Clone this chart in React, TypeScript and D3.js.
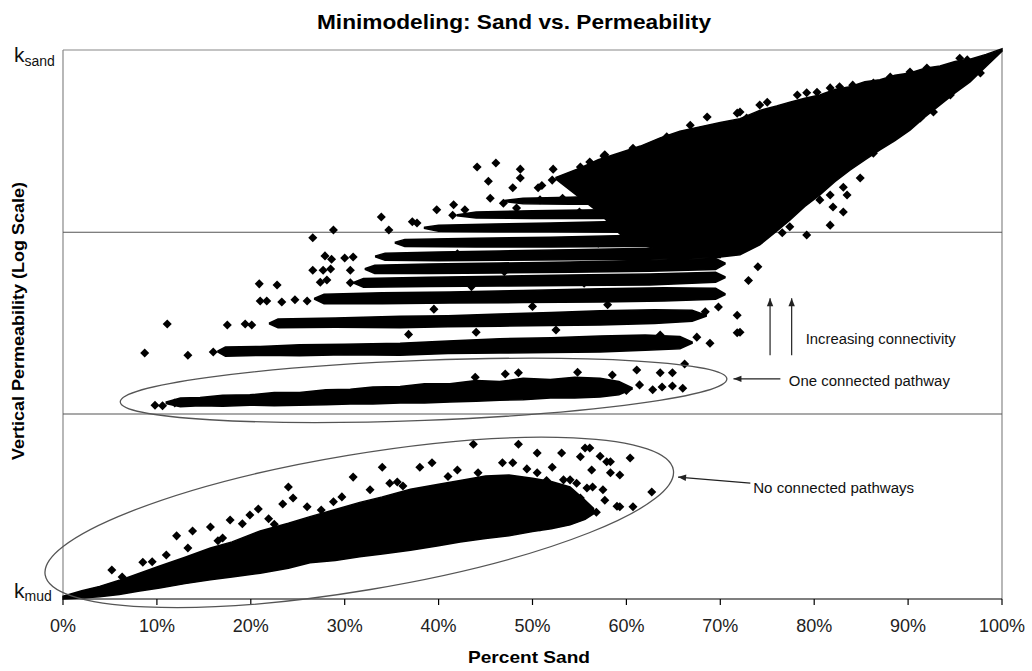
import React from "react";
import * as d3 from "d3";

// ---------- data (sand in %, permeability as % of log range between k_mud and k_sand) ----------
const sandTicks = [0, 10, 20, 30, 40, 50, 60, 70, 80, 90, 100];
const thresholds = [33.7, 66.8];

// dense envelopes of overlapping realisations: [sand, low, high]
const noPathMass: [number, number, number][] = [
  [0, 0, 0.5], [2, 0.2, 1.5], [3.9, 0.4, 2.3], [6, 0.8, 3.4], [8, 1.4, 4.6], [10.3, 2.0, 6.0],
  [13, 2.8, 7.6], [15.7, 3.5, 9.3], [18, 4.0, 10.4], [21.0, 4.7, 12.4], [24, 5.6, 13.8],
  [26.3, 6.6, 15.0], [29, 7.0, 16.3], [31.6, 7.7, 17.6], [34, 8.2, 18.6], [37.0, 8.9, 20.0],
  [40, 9.7, 20.9], [42.3, 10.4, 21.6], [45, 11.0, 22.4], [47.5, 11.5, 22.6], [50, 12.3, 22.0],
  [52, 12.8, 21.4], [54.0, 13.5, 20.4], [55.6, 14.5, 18.0], [56.5, 15.5, 16.5],
];
const oneConnectedBand: [number, number, number][] = [
  [11.0, 35.6, 35.9], [12.5, 35.0, 36.6], [14.6, 35.2, 36.7], [17, 35.1, 37.1], [19.9, 35.3, 37.2],
  [22.5, 35.2, 37.6], [25.2, 35.3, 37.6], [28, 35.4, 38.1], [30.6, 35.5, 38.2], [33, 35.5, 38.6],
  [35.9, 35.7, 38.7], [38.5, 35.7, 39.2], [41.2, 35.9, 39.2], [44, 36.0, 39.8], [46.5, 36.2, 39.6],
  [49, 36.3, 40.2], [51.9, 36.6, 40.0], [54.5, 36.6, 40.4], [57.2, 36.8, 40.2], [59.2, 37.2, 39.6],
  [60.6, 38.2, 38.5],
];
const row2: [number, number, number][] = [[16.5, 45.0, 45.2], [17.3, 44.2, 45.9], [21, 44.4, 46.0], [25.2, 44.3, 46.3], [30, 44.5, 46.4], [35.9, 44.4, 46.6], [41, 44.7, 47.0], [46.5, 44.8, 47.4], [52, 44.9, 47.6], [57.2, 45.0, 47.9], [62, 45.3, 48.1], [65.7, 45.6, 47.8], [67, 46.6, 46.8]];
const row3: [number, number, number][] = [[22.0, 50.1, 50.3], [22.9, 49.4, 51.0], [29, 49.5, 51.2], [35.9, 49.4, 51.5], [41, 49.6, 51.6], [46.5, 49.7, 51.9], [52, 49.8, 52.2], [57.2, 49.9, 52.5], [63, 50.2, 52.7], [67.0, 50.6, 52.6], [68.5, 51.5, 51.7]];
const row4: [number, number, number][] = [[26.8, 54.6, 54.8], [27.8, 53.8, 55.5], [34, 53.8, 55.8], [41.2, 53.9, 55.9], [49, 54.0, 56.2], [57.2, 54.1, 56.5], [64, 54.3, 56.7], [69.5, 54.6, 56.6], [70.5, 55.4, 55.6]];
const row5: [number, number, number][] = [[31.0, 57.5, 57.7], [32.0, 56.8, 58.4], [39, 56.9, 58.6], [46.5, 57.0, 58.8], [54, 57.1, 59.0], [62.5, 57.2, 59.2], [69.5, 57.7, 59.5], [70.5, 58.5, 58.7]];
const row6: [number, number, number][] = [[32.2, 60.0, 60.2], [33.2, 59.3, 60.8], [39, 59.3, 61.0], [46.5, 59.4, 61.2], [54, 59.5, 61.4], [62.5, 59.7, 61.7], [69.5, 60.0, 62.0], [70.5, 61.0, 61.2]];
const row7: [number, number, number][] = [[33.3, 62.3, 62.5], [34.3, 61.7, 63.0], [40, 61.6, 63.2], [46.5, 61.7, 63.4], [54, 61.8, 63.6], [62.5, 61.9, 63.9], [70.0, 62.2, 64.2]];
const row8: [number, number, number][] = [[35.4, 64.8, 65.0], [36.4, 64.2, 65.5], [44, 64.1, 65.7], [51.9, 64.1, 65.9], [60, 64.2, 66.2], [67.8, 64.3, 66.5]];
const row9: [number, number, number][] = [[38.5, 67.5, 67.7], [40, 67.0, 68.1], [46, 66.9, 68.3], [51.9, 66.9, 68.5], [60, 66.8, 68.8], [66, 66.8, 69.0]];
const row10: [number, number, number][] = [[42.0, 69.8, 70.0], [44, 69.4, 70.5], [50, 69.3, 70.7], [57.2, 69.3, 70.9], [61, 69.4, 71.0]];
const row11: [number, number, number][] = [[47.0, 72.4, 72.6], [49, 72.0, 73.0], [54, 71.9, 73.2], [59.3, 71.9, 73.5]];
const upperMass: [number, number, number][] = [
  [52.5, 76.5, 76.8], [55.1, 73.0, 78.5], [57, 70.5, 80.0], [59.3, 66.5, 81.3], [61.5, 64.5, 82.5],
  [63.6, 63.6, 84.0], [65.7, 63.0, 85.2], [67.8, 62.7, 86.0], [70, 62.3, 86.8], [72.1, 62.7, 87.5],
  [74.2, 64.5, 89.0], [76, 67.0, 89.8], [77.4, 69.0, 90.5], [79, 71.5, 91.2], [80.6, 73.6, 91.8],
  [82.2, 76.0, 92.8], [83.8, 78.1, 93.3], [85.4, 80.0, 94.2], [87.0, 81.8, 94.6], [88.6, 83.5, 95.4],
  [90.2, 85.4, 95.8], [91.8, 87.8, 96.7], [93.4, 90.0, 97.1], [95.0, 92.2, 97.9], [96.6, 94.2, 98.3],
  [98.3, 97.0, 99.2], [100, 99.8, 100.2],
];

// individual realisations: [sand, permeability]
const noPathPoints: [number, number][] = [
  [5.2, 5.3], [6.3, 4.0], [8.5, 6.7], [11.0, 8.0], [12.1, 11.5], [13.3, 9.3], [13.8, 12.4],
  [15.7, 13.1], [17.0, 11.1], [17.8, 14.4], [19.1, 13.7], [19.9, 15.3], [20.8, 16.4],
  [21.9, 14.6], [23.4, 17.3], [24.0, 20.4], [24.5, 18.4], [26.0, 16.8], [28.8, 17.7],
  [29.7, 18.6], [30.9, 22.2], [32.7, 19.9], [34.0, 24.0], [34.8, 21.1], [35.6, 21.3],
  [38.0, 24.0], [39.3, 24.8], [42.0, 23.5], [43.7, 28.2], [46.8, 24.8], [47.9, 24.8],
  [48.5, 28.2], [49.4, 23.7], [50.5, 26.6], [50.5, 23.0], [52.1, 24.0], [53.1, 26.6],
  [53.3, 21.7], [54.0, 21.7], [54.7, 21.1], [55.1, 25.9], [55.6, 27.5], [56.1, 27.5],
  [55.8, 20.2], [56.4, 20.4], [56.3, 23.5], [57.2, 26.0], [57.5, 19.9], [57.7, 18.0],
  [57.9, 25.0], [58.3, 25.0], [58.3, 23.0], [59.3, 22.6], [59.0, 16.9], [59.3, 16.8],
  [60.4, 25.7], [60.7, 16.8], [62.7, 19.5], [55.1, 18.4], [54.3, 16.2], [54.0, 14.4],
  [50.8, 13.1], [9.5, 6.8], [16.5, 10.6], [22.5, 13.6], [27.5, 16.2], [36.2, 20.6],
  [41.0, 22.3], [44.2, 23.0], [51.5, 21.6], [56.8, 15.8],
];
const oneConnectedPoints: [number, number][] = [
  [9.8, 35.3], [10.6, 35.2], [11.9, 35.7], [43.9, 40.4], [47.1, 41.0], [48.5, 41.2],
  [54.8, 41.3], [61.1, 41.7], [61.4, 39.0], [62.8, 38.1], [63.6, 41.2], [63.8, 38.6],
  [64.9, 41.2], [64.9, 38.8], [66.0, 38.4], [66.2, 42.8], [58.5, 40.8], [60.0, 38.0],
];
const multiPathPoints: [number, number][] = [
  [8.7, 44.8], [13.3, 44.4], [16.0, 45.0],
  [11.1, 50.1], [17.5, 49.9], [19.4, 50.1], [20.1, 49.9],
  [21.0, 54.3], [21.7, 54.3], [23.3, 54.1], [24.7, 54.5], [26.0, 54.3],
  [20.9, 57.4], [22.8, 57.2], [27.4, 57.7], [28.1, 58.1], [30.6, 57.6],
  [26.6, 59.9], [27.7, 59.9], [28.5, 60.1], [30.6, 59.9],
  [27.9, 62.5], [28.6, 61.9], [30.0, 62.1], [30.9, 62.3],
  [26.6, 65.8], [28.8, 67.2],
  [63.6, 48.1], [67.5, 47.7], [68.9, 46.6], [62.5, 46.6], [71.8, 48.5], [72.1, 48.6],
  [71.8, 51.7], [69.8, 53.2], [68.4, 52.3],
  [44.1, 78.7], [46.1, 79.4], [45.3, 76.1], [48.7, 78.3], [48.7, 76.7], [45.5, 73.0],
  [47.9, 74.9], [50.6, 74.9], [52.2, 78.3], [52.1, 76.3], [53.7, 76.0], [55.1, 78.7],
  [56.1, 79.6], [57.6, 80.7], [39.8, 70.9], [41.6, 71.8], [33.9, 69.6], [34.7, 67.2],
  [37.2, 68.7], [37.7, 68.5], [41.5, 69.9], [42.8, 70.9], [46.9, 72.1], [48.3, 71.2],
  [50.8, 72.7], [53.2, 73.0],
  [57.7, 80.9], [59.3, 80.3], [60.7, 82.1], [61.8, 80.9], [64.3, 84.2], [66.8, 86.3],
  [68.6, 87.8], [71.8, 88.5], [72.8, 87.6], [75.0, 90.5], [79.2, 92.2], [80.3, 92.3],
  [82.7, 93.3], [86.3, 94.0], [90.2, 96.0], [95.5, 98.5],
  [72.1, 88.7], [74.2, 90.0], [78.2, 91.8], [81.7, 93.1], [84.1, 93.6], [88.1, 95.1],
  [92.0, 96.7], [96.3, 98.2],
  [84.9, 76.7], [83.1, 75.0], [83.5, 73.6], [81.7, 73.6], [82.0, 71.4], [83.1, 70.5],
  [80.6, 72.7], [81.7, 68.1], [79.2, 66.3], [77.4, 67.8], [76.6, 66.7], [86.3, 81.2],
  [89.5, 85.4], [94.5, 91.8], [88.4, 84.0], [91.3, 87.6], [92.7, 88.7], [97.7, 95.8],
  [84.1, 80.0], [82.7, 78.1],
  [36.8, 48.2], [44.0, 48.6], [52.5, 49.0], [39.5, 52.8], [50.0, 53.3], [58.0, 53.6],
  [43.5, 56.9], [55.5, 57.5], [47.0, 59.6], [60.0, 60.4], [42.0, 62.9], [57.0, 64.8],
  [63.5, 67.5], [55.0, 70.5], [60.0, 74.0], [51.0, 75.3], [73.0, 58.0], [74.0, 60.5],
];

// ---------- layout ----------
const W = 1032;
const H = 671;
const PL = 63, PR = 1002, PT = 50, PB = 599;
const FONT = "'Liberation Sans', Arial, Helvetica, sans-serif";

const x = d3.scaleLinear().domain([0, 100]).range([PL, PR]);
const y = d3.scaleLinear().domain([0, 100]).range([PB, PT]);

const area = d3
  .area<[number, number, number]>()
  .x((d) => x(d[0]))
  .y0((d) => y(d[1]))
  .y1((d) => y(d[2]))
  .curve(d3.curveLinear);

const diamondType: any = (d3 as any).symbolDiamond2 ?? d3.symbolDiamond;
const diamond = d3.symbol().type(diamondType).size(52)() as string;

const envelopes = [noPathMass, oneConnectedBand, row2, row3, row4, row5, row6, row7, row8, row9, row10, row11, upperMass];
const pointSets = [noPathPoints, oneConnectedPoints, multiPathPoints];

function ellipseFrom(a: [number, number], b: [number, number], ry: number) {
  const x1 = x(a[0]), y1 = y(a[1]), x2 = x(b[0]), y2 = y(b[1]);
  const cx = (x1 + x2) / 2, cy = (y1 + y2) / 2;
  const rx = Math.hypot(x2 - x1, y2 - y1) / 2;
  const ang = (Math.atan2(y2 - y1, x2 - x1) * 180) / Math.PI;
  return <ellipse cx={cx} cy={cy} rx={rx} ry={ry} transform={`rotate(${ang},${cx},${cy})`} fill="none" stroke="#555" strokeWidth={1.3} />;
}

export default function App() {
  return (
    <svg width={W} height={H} style={{ position: "absolute", left: 0, top: 0, background: "#fff" }} fontFamily={FONT}>
      <defs>
        <marker id="ah" viewBox="0 0 10 10" refX={10} refY={5} markerWidth={9} markerHeight={8} orient="auto" markerUnits="userSpaceOnUse">
          <path d="M0,1 L10,5 L0,9 Z" fill="#222" />
        </marker>
      </defs>
      <rect width={W} height={H} fill="#fff" />

      {/* frame */}
      <line x1={PL} x2={PR} y1={PT} y2={PT} stroke="#888" strokeWidth={1.2} />
      <line x1={PL} x2={PL} y1={PT} y2={PB} stroke="#888" strokeWidth={1.2} />
      <line x1={PR} x2={PR} y1={PT} y2={PB} stroke="#888" strokeWidth={1.2} />
      {thresholds.map((t) => (
        <line key={t} x1={PL} x2={PR} y1={y(t)} y2={y(t)} stroke="#555" strokeWidth={1.2} />
      ))}

      {/* data */}
      {envelopes.map((e, i) => (
        <path key={i} d={area(e) as string} fill="#000" stroke="#000" strokeWidth={1.5} strokeLinejoin="miter" />
      ))}
      {pointSets.map((s, i) => (
        <g key={i}>
          {s.map((p, j) => (
            <path key={j} d={diamond} transform={`translate(${x(p[0])},${y(p[1])})`} fill="#000" />
          ))}
        </g>
      ))}

      {/* x axis */}
      <line x1={PL} x2={PR} y1={PB} y2={PB} stroke="#000" strokeWidth={1.2} />
      {sandTicks.map((t) => (
        <g key={t}>
          <line x1={x(t)} x2={x(t)} y1={PB} y2={PB + 6} stroke="#000" strokeWidth={1.2} />
          <text x={x(t)} y={632} textAnchor="middle" fontSize={18} fill="#222">{`${t}%`}</text>
        </g>
      ))}

      {/* y labels */}
      <text x={14} y={62} fontSize={21} fill="#111">k<tspan fontSize={14} dy={4}>sand</tspan></text>
      <text x={14} y={598} fontSize={21} fill="#111">k<tspan fontSize={14} dy={3}>mud</tspan></text>

      {/* annotations */}
      {ellipseFrom([6.1, 35.9], [70.7, 40.1], 30)}
      {ellipseFrom([-1.9, 4.4], [65.0, 23.5], 68)}
      <line x1={x(76.4)} y1={y(40.1)} x2={x(71.4)} y2={y(40.1)} stroke="#222" strokeWidth={1.2} markerEnd="url(#ah)" />
      <text x={x(77.3)} y={386} fontSize={15.5} textLength={161} lengthAdjust="spacingAndGlyphs" fill="#111">One connected pathway</text>
      <line x1={x(73.2)} y1={y(21.1)} x2={x(65.5)} y2={y(22.2)} stroke="#222" strokeWidth={1.2} markerEnd="url(#ah)" />
      <text x={x(73.5)} y={493} fontSize={15.5} textLength={161} lengthAdjust="spacingAndGlyphs" fill="#111">No connected pathways</text>
      <line x1={x(75.3)} y1={y(44.4)} x2={x(75.3)} y2={y(54.8)} stroke="#222" strokeWidth={1.2} markerEnd="url(#ah)" />
      <line x1={x(77.6)} y1={y(44.4)} x2={x(77.6)} y2={y(54.8)} stroke="#222" strokeWidth={1.2} markerEnd="url(#ah)" />
      <text x={x(79.1)} y={344} fontSize={15.5} textLength={150} lengthAdjust="spacingAndGlyphs" fill="#111">Increasing connectivity</text>

      {/* titles */}
      <text x={514} y={29} textAnchor="middle" fontSize={21} fontWeight="bold" textLength={394} lengthAdjust="spacingAndGlyphs" fill="#000">Minimodeling: Sand vs. Permeability</text>
      <text x={529} y={663} textAnchor="middle" fontSize={17} fontWeight="bold" textLength={122} lengthAdjust="spacingAndGlyphs" fill="#000">Percent Sand</text>
      <text transform="translate(24,321) rotate(-90)" textAnchor="middle" fontSize={16} fontWeight="bold" textLength={278} lengthAdjust="spacingAndGlyphs" fill="#000">Vertical Permeability (Log Scale)</text>
    </svg>
  );
}
